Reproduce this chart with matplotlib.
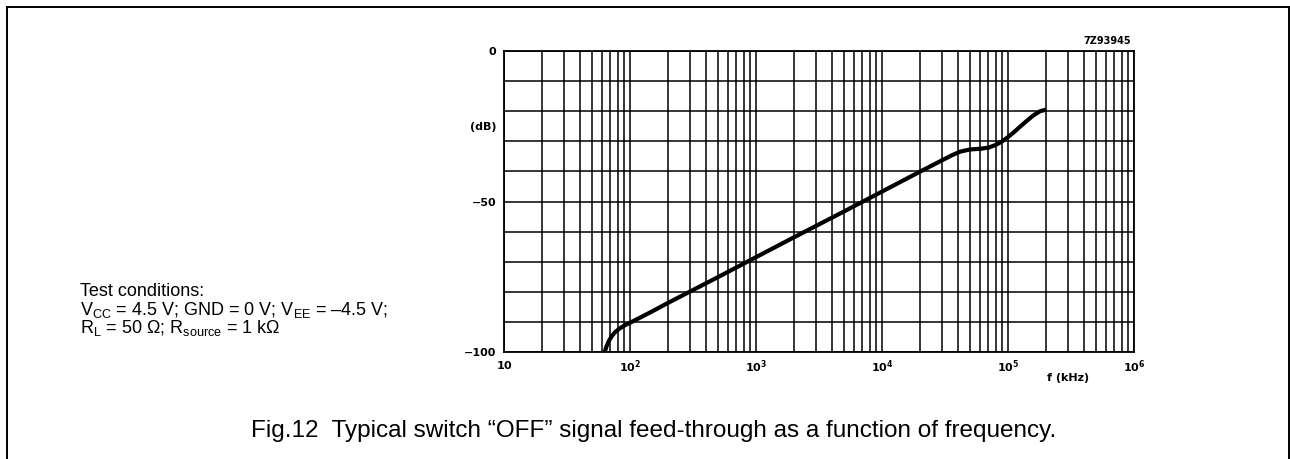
import matplotlib
matplotlib.use("Agg")
import matplotlib.pyplot as plt
from matplotlib.lines import Line2D
from matplotlib.ticker import FixedLocator, LogLocator, NullFormatter

plt.rcParams['font.family'] = ['Liberation Sans', 'DejaVu Sans']
plt.rcParams['mathtext.fontset'] = 'custom'
plt.rcParams['mathtext.rm'] = 'Liberation Sans'
plt.rcParams['mathtext.it'] = 'Liberation Sans'
plt.rcParams['mathtext.bf'] = 'DejaVu Sans:bold'
plt.rcParams['mathtext.default'] = 'rm'

# data
freq_khz = [63, 65, 68, 72, 77, 84, 92, 100, 120, 150, 200, 300, 500, 1000,
            2000, 5000, 1e4, 2e4, 3e4, 3.6e4, 4.2e4, 5e4, 6e4, 7e4, 8e4, 9e4,
            1e5, 1.12e5, 1.25e5, 1.4e5, 1.6e5, 1.8e5, 2e5]
feedthrough_db = [-100, -98.2, -96.3, -94.6, -93.2, -92.0, -91.0, -90.3,
                  -88.6, -86.5, -83.7, -79.9, -75.1, -68.5, -61.9, -53.3,
                  -46.7, -40.1, -36.3, -34.6, -33.4, -32.7, -32.5, -32.1,
                  -31.2, -30.0, -28.6, -26.9, -25.1, -23.3, -21.3, -20.0,
                  -19.5]
x_tick_vals = [10, 1e2, 1e3, 1e4, 1e5, 1e6]
x_tick_labels = [r"$\mathbf{10}$", r"$\mathbf{10^{2}}$", r"$\mathbf{10^{3}}$",
                 r"$\mathbf{10^{4}}$", r"$\mathbf{10^{5}}$", r"$\mathbf{10^{6}}$"]
y_tick_vals = [0, -50, -100]
y_tick_labels = ["0", "\u221250", "\u2212100"]

fig = plt.figure(figsize=(12.9, 4.6), dpi=100)
ax = fig.add_axes([504/1290, 1-353/460, 630/1290, 301/460])

ax.plot(freq_khz, feedthrough_db, color='black', lw=3.0, solid_capstyle='butt',
        zorder=3)
ax.set_xscale('log')
ax.set_xlim(10, 1e6)
ax.set_ylim(-100, 0)

ax.xaxis.set_major_locator(FixedLocator(x_tick_vals))
ax.xaxis.set_minor_locator(LogLocator(base=10, subs=range(2, 10), numticks=50))
ax.xaxis.set_minor_formatter(NullFormatter())
ax.set_xticklabels(x_tick_labels, fontsize=8)
ax.yaxis.set_major_locator(FixedLocator(range(-100, 1, 10)))
ax.set_yticklabels([""] * 11)
ax.tick_params(which='both', length=0, pad=4)
ax.grid(True, which='both', axis='x', color='black', lw=1.1)
ax.grid(True, which='major', axis='y', color='black', lw=1.1)
for s in ax.spines.values():
    s.set_linewidth(1.3)

for v, lab in zip(y_tick_vals, y_tick_labels):
    ax.text(-0.012, (v + 100) / 100, lab, transform=ax.transAxes, ha='right',
            va='center', fontsize=8, fontweight='bold', family='DejaVu Sans')
ax.text(-0.012, 0.75, "(dB)", transform=ax.transAxes, ha='right', va='center',
        fontsize=8, fontweight='bold', family='DejaVu Sans')
ax.text(0.895, -0.065, "f (kHz)", transform=ax.transAxes, ha='center',
        va='top', fontsize=8, fontweight='bold', family='DejaVu Sans')
ax.text(0.995, 1.02, "7Z93945", transform=ax.transAxes, ha='right',
        va='bottom', fontsize=7, fontweight='bold', family='DejaVu Sans')

fig.text(80/1290, 1-292/460, "Test conditions:", fontsize=13, va='center')
fig.text(80/1290, 1-310/460,
         "V$_{CC}$ = 4.5 V; GND = 0 V; V$_{EE}$ = \u20134.5 V;",
         fontsize=13, va='center')
fig.text(80/1290, 1-328/460,
         "R$_{L}$ = 50 \u03a9; R$_{source}$ = 1 k\u03a9",
         fontsize=13, va='center')

fig.text(654/1290, 1-431/460,
         "Fig.12  Typical switch \u201cOFF\u201d signal feed-through as a function of frequency.",
         fontsize=17.5, ha='center', va='center')

# frame
fig.add_artist(Line2D([7/1290, 7/1290], [0, 1-8/460], color='black', lw=1.4,
                      transform=fig.transFigure))
fig.add_artist(Line2D([7/1290, 1], [1-8/460, 1-8/460], color='black', lw=1.4,
                      transform=fig.transFigure))
fig.add_artist(Line2D([1288.5/1290, 1288.5/1290], [1-8/460, 0], color='black',
                      lw=1.4, transform=fig.transFigure))

fig.savefig("out.png", dpi=100)
